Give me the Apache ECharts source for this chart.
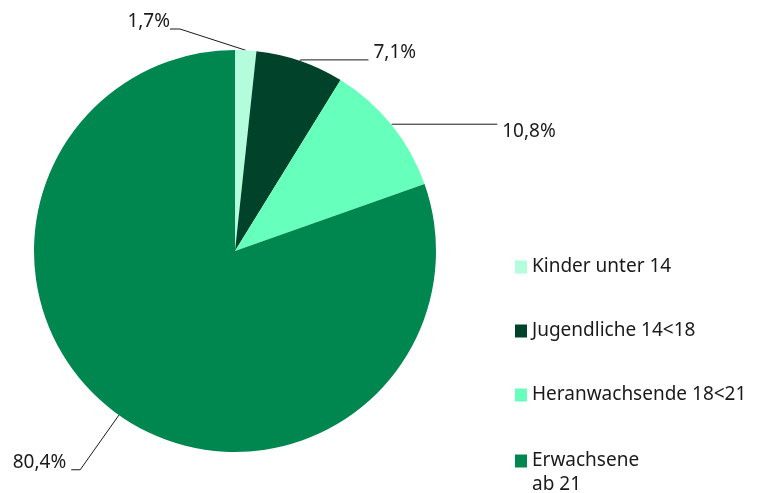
<!DOCTYPE html>
<html>
<head>
<meta charset="utf-8">
<script src="https://cdn.jsdelivr.net/npm/echarts@6/dist/echarts.min.js"></script>
<style>
html, body {margin:0; padding:0; background:#fff;}
#chart {width:763px; height:493px;}
</style>
</head>
<body>
<div id="chart"></div>
<script>
// Anteile nach Altersgruppen (in %)
const categories = ["Kinder unter 14", "Jugendliche 14<18", "Heranwachsende 18<21", "Erwachsene\nab 21"];
const values = [1.7, 7.1, 10.8, 80.4];
const colors = ["#b3fcdc", "#00432a", "#66ffbb", "#00864f"];

let chart = echarts.init(document.getElementById("chart"));
let fontFamily = "Noto Sans";
let textColor = "#1a1a1a";

// Beschriftungslinien: je Segment eigene Längen (wie im Original)
let labelLines = [
    {length: 10, length2: 10},
    {length: 1, length2: 68},
    {length: 1, length2: 105},
    {length: 67, length2: 9}
];
// Linie trifft den Text unten (true) bzw. oben (false)
let lineAtBottom = [true, true, false, true];

let legendText = {fontFamily: fontFamily, fontSize: 19, color: textColor, lineHeight: 24};

function pct(v) {
    return v.toFixed(1).replace(".", ",") + "%";
}

let options = {
    backgroundColor: "#fff",
    animation: false,
    color: colors,
    legend: [{
        orient: "vertical",
        left: 515,
        top: 255,
        padding: 0,
        itemWidth: 12,
        itemHeight: 13,
        itemGap: 40,
        icon: "rect",
        selectedMode: false,
        textStyle: legendText,
        data: categories.slice(0, 3)
    }, {
        orient: "vertical",
        left: 515,
        top: 425,
        padding: 0,
        itemWidth: 12,
        itemHeight: 13,
        icon: "rect",
        selectedMode: false,
        textStyle: legendText,
        // Leerzeile davor, damit das Symbol auf Höhe der ersten Zeile steht
        formatter: name => "\n" + name,
        data: categories.slice(3)
    }],
    series: [{
        type: "pie",
        center: [235, 251],
        radius: 201,
        startAngle: 90,
        clockwise: true,
        silent: true,
        avoidLabelOverlap: false,
        label: {
            show: true,
            // Leerzeile verschiebt den Text gegenüber dem Linienende
            formatter: p => lineAtBottom[p.dataIndex] ? pct(p.value) + "\n " : " \n" + pct(p.value),
            fontFamily: fontFamily,
            fontSize: 19,
            lineHeight: 14,
            color: textColor,
            distanceToLabelLine: 5
        },
        labelLine: {
            show: true,
            lineStyle: {color: textColor, width: 1}
        },
        // kleinstes Segment: Beschriftung links oberhalb
        labelLayout: p => {
            if (p.dataIndex === 0) {
                return {x: 170, y: 29, align: "right", verticalAlign: "middle"};
            }
        },
        data: values.map((v, i) => ({
            name: categories[i],
            value: v,
            labelLine: labelLines[i]
        }))
    }]
};
chart.setOption(options);
</script>
</body>
</html>
